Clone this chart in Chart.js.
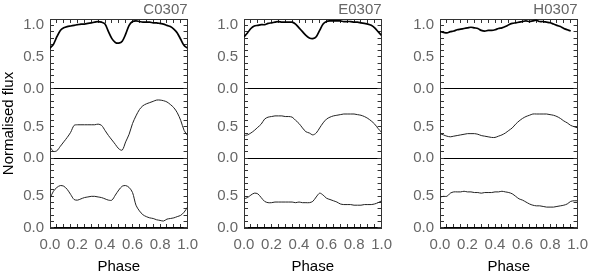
<!DOCTYPE html>
<html>
<head>
<meta charset="utf-8">
<script src="https://cdn.jsdelivr.net/npm/chart.js@4.4.1/dist/chart.umd.min.js"></script>
<style>
  html, body { margin: 0; padding: 0; background: #fff; }
  #wrap { position: relative; width: 600px; height: 276px; overflow: hidden; }
  #wrap canvas { position: absolute; top: 0; }
</style>
</head>
<body>
<div id="wrap">
  <canvas id="col-c" width="210" height="276" style="left:0px"></canvas>
  <canvas id="col-e" width="210" height="276" style="left:194px"></canvas>
  <canvas id="col-h" width="210" height="276" style="left:390px"></canvas>
</div>
<script>
// phase grid shared by every panel
const phase = [0, 0.025, 0.05, 0.075, 0.1, 0.125, 0.15, 0.175, 0.2, 0.225,
  0.25, 0.275, 0.3, 0.325, 0.35, 0.375, 0.4, 0.425, 0.45, 0.475,
  0.5, 0.525, 0.55, 0.575, 0.6, 0.625, 0.65, 0.675, 0.7, 0.725,
  0.75, 0.775, 0.8, 0.825, 0.85, 0.875, 0.9, 0.925, 0.95, 0.975, 1.0];

// C0307
const cTop = [0.64, 0.70, 0.82, 0.92, 0.96, 0.98, 0.99, 1.00, 1.01, 1.02,
  1.02, 1.03, 1.04, 1.05, 1.06, 1.05, 1.02, 0.90, 0.79, 0.73,
  0.72, 0.75, 0.86, 1.00, 1.06, 1.07, 1.06, 1.05, 1.05, 1.05,
  1.04, 1.04, 1.03, 1.02, 1.00, 0.98, 0.94, 0.88, 0.78, 0.68, 0.64];
const cMid = [0.18, 0.11, 0.12, 0.19, 0.26, 0.33, 0.41, 0.52, 0.53, 0.53,
  0.53, 0.53, 0.53, 0.53, 0.54, 0.52, 0.44, 0.36, 0.29, 0.22,
  0.15, 0.13, 0.26, 0.38, 0.55, 0.67, 0.77, 0.83, 0.86, 0.88,
  0.90, 0.92, 0.92, 0.91, 0.89, 0.85, 0.80, 0.72, 0.60, 0.44, 0.36];
const cBot = [0.47, 0.58, 0.64, 0.67, 0.66, 0.61, 0.53, 0.45, 0.44, 0.46,
  0.48, 0.49, 0.50, 0.50, 0.49, 0.48, 0.46, 0.44, 0.44, 0.52,
  0.60, 0.66, 0.67, 0.64, 0.56, 0.36, 0.27, 0.21, 0.18, 0.16,
  0.15, 0.13, 0.12, 0.11, 0.14, 0.15, 0.16, 0.18, 0.20, 0.25, 0.33];

// E0307
const eTop = [0.82, 0.88, 0.95, 0.99, 1.00, 1.01, 1.01, 1.03, 1.04, 1.05,
  1.06, 1.05, 1.05, 1.05, 1.05, 1.02, 0.96, 0.90, 0.84, 0.80,
  0.79, 0.82, 0.92, 1.02, 1.06, 1.07, 1.07, 1.07, 1.07, 1.06,
  1.06, 1.06, 1.05, 1.05, 1.04, 1.03, 1.02, 1.00, 0.96, 0.90, 0.84];
const eMid = [0.36, 0.37, 0.40, 0.44, 0.49, 0.54, 0.62, 0.65, 0.66, 0.67,
  0.67, 0.67, 0.66, 0.66, 0.65, 0.60, 0.55, 0.48, 0.42, 0.40,
  0.37, 0.40, 0.48, 0.56, 0.62, 0.65, 0.67, 0.68, 0.69, 0.70,
  0.70, 0.70, 0.70, 0.69, 0.68, 0.66, 0.63, 0.59, 0.54, 0.47, 0.41];
const eBot = [0.46, 0.48, 0.52, 0.55, 0.54, 0.48, 0.42, 0.40, 0.40, 0.41,
  0.41, 0.41, 0.41, 0.41, 0.41, 0.40, 0.41, 0.40, 0.40, 0.40,
  0.42, 0.49, 0.55, 0.52, 0.47, 0.45, 0.43, 0.41, 0.38, 0.37,
  0.37, 0.37, 0.36, 0.36, 0.36, 0.37, 0.37, 0.37, 0.38, 0.40, 0.43];

// H0307 (top curve stops short of phase 1)
const hTop = [0.90, 0.89, 0.88, 0.90, 0.91, 0.93, 0.94, 0.95, 0.96, 0.97,
  0.96, 0.95, 0.92, 0.91, 0.92, 0.92, 0.93, 0.95, 0.96, 0.98,
  1.01, 1.03, 1.04, 1.05, 1.06, 1.07, 1.06, 1.07, 1.08, 1.06,
  1.06, 1.05, 1.04, 1.02, 1.00, 0.98, 0.95, 0.93, 0.91, null, null];
const hMid = [0.39, 0.37, 0.35, 0.34, 0.35, 0.36, 0.37, 0.38, 0.39, 0.39,
  0.39, 0.38, 0.36, 0.35, 0.34, 0.33, 0.33, 0.35, 0.37, 0.40,
  0.44, 0.48, 0.54, 0.59, 0.63, 0.66, 0.68, 0.70, 0.70, 0.70,
  0.70, 0.70, 0.69, 0.68, 0.66, 0.63, 0.59, 0.56, 0.52, 0.50, 0.48];
const hBot = [0.49, 0.50, 0.50, 0.55, 0.57, 0.57, 0.57, 0.58, 0.57, 0.57,
  0.56, 0.56, 0.55, 0.56, 0.56, 0.56, 0.57, 0.57, 0.58, 0.57,
  0.56, 0.54, 0.50, 0.46, 0.44, 0.41, 0.38, 0.36, 0.35, 0.35,
  0.34, 0.33, 0.33, 0.33, 0.34, 0.35, 0.36, 0.38, 0.42, 0.43, 0.43];

const xTickLabels = [0, 0.2, 0.4, 0.6, 0.8, 1.0];
const yTickLabelsTop = [0, 0.5, 1.0];
const yTickLabelsLow = [0, 0.5];

const TEXT = '#666';
const FRAME = '#333';
const FONT = 'Liberation Sans, Arial, sans-serif';
const tickFont = { family: FONT, size: 15 };

// only print a label on the listed values, minor ticks stay blank
const labelOnly = list => v => list.some(t => Math.abs(t - v) < 1e-6) ? Number(v).toFixed(1) : '';

const leftAxis = (labels, weight, title) => ({
    type: 'linear', position: 'left', stack: 'left', stackWeight: 1, weight,
    min: 0, max: 1.1,
    afterFit: s => { s.width = 50; },
    border: { display: true, color: FRAME },
    grid: {
        drawOnChartArea: true,
        color: c => (c.tick && c.tick.value === 0) ? '#000' : 'rgba(0,0,0,0)',
        tickColor: FRAME, tickLength: -4
    },
    ticks: { stepSize: 0.1, autoSkip: false, padding: 10, color: TEXT, font: tickFont, callback: labelOnly(labels) },
    title: title
        ? { display: true, text: title, color: '#000', font: { family: FONT, size: 15 }, padding: 0 }
        : { display: false }
});

const rightAxis = weight => ({
    type: 'linear', position: 'right', stack: 'right', stackWeight: 1, weight,
    min: 0, max: 1.1,
    afterFit: s => { s.width = 0; },
    border: { display: true, color: FRAME },
    grid: { drawOnChartArea: false, tickColor: FRAME, tickLength: -4 },
    ticks: { stepSize: 0.1, autoSkip: false, display: false }
});

const series = (values, axis, width) => ({
    data: phase.map((p, i) => ({ x: p, y: values[i] })),
    yAxisID: axis,
    xAxisID: 'x',
    borderColor: width > 1 ? '#000' : '#222',
    borderWidth: width,
    pointRadius: 0,
    tension: 0.3,
    spanGaps: false
});

const makeColumn = (canvasId, name, top, mid, bot, rightPad, yTitle) => {
    const ctx = document.getElementById(canvasId).getContext('2d');
    return new Chart(ctx, {
        type: 'line',
        data: {
            datasets: [
                series(top, 'y1', 1.7),
                series(mid, 'y2', 1),
                series(bot, 'y3', 1)
            ]
        },
        options: {
            responsive: false,
            animation: false,
            layout: { padding: { left: 0, right: rightPad, top: 0, bottom: 0 } },
            plugins: {
                legend: { display: false },
                tooltip: { enabled: false },
                title: {
                    display: true, text: name, align: 'end', fullSize: false,
                    color: TEXT, font: { family: FONT, size: 15, weight: 'normal' },
                    padding: { top: 0, bottom: 0 }
                }
            },
            scales: {
                x: {
                    type: 'linear', position: 'bottom', min: 0, max: 1,
                    afterFit: s => { s.height = 48; },
                    border: { display: true, color: FRAME },
                    grid: { drawOnChartArea: false, tickColor: FRAME, tickLength: -4 },
                    ticks: { stepSize: 0.05, autoSkip: false, maxRotation: 0, padding: 12, color: TEXT, font: tickFont, callback: labelOnly(xTickLabels) },
                    title: { display: true, text: 'Phase', color: '#000', font: { family: FONT, size: 15 }, padding: 0 }
                },
                x2: {
                    type: 'linear', position: 'top', min: 0, max: 1,
                    afterFit: s => { s.height = 0; },
                    border: { display: true, color: FRAME },
                    grid: { drawOnChartArea: false, tickColor: FRAME, tickLength: -4 },
                    ticks: { stepSize: 0.05, autoSkip: false, display: false }
                },
                y1: leftAxis(yTickLabelsTop, 3, null),
                y2: leftAxis(yTickLabelsLow, 2, yTitle),
                y3: leftAxis(yTickLabelsLow, 1, null),
                r1: rightAxis(1),
                r2: rightAxis(2),
                r3: rightAxis(3)
            }
        }
    });
};

makeColumn('col-c', 'C0307', cTop, cMid, cBot, 13, 'Normalised flux');
makeColumn('col-e', 'E0307', eTop, eMid, eBot, 12, null);
makeColumn('col-h', 'H0307', hTop, hMid, hBot, 12, null);
</script>
</body>
</html>
